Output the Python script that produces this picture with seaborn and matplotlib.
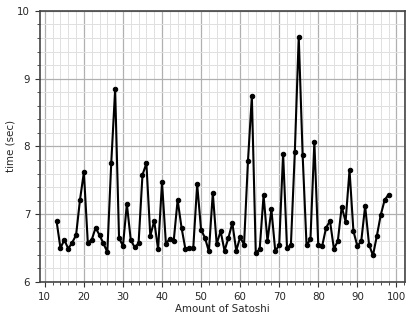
import matplotlib
matplotlib.use("Agg")
import matplotlib.pyplot as plt
import numpy as np
import pandas as pd
import seaborn as sns
from matplotlib.ticker import MultipleLocator

# amount of satoshi sent vs. time it took
satoshi = list(range(13, 99))
time_sec = [
    6.90, 6.50, 6.62, 6.49, 6.58, 6.69, 7.21, 7.62, 6.58, 6.62,
    6.80, 6.69, 6.57, 6.44, 7.75, 8.84, 6.65, 6.53, 7.15, 6.62,
    6.51, 6.57, 7.58, 7.75, 6.68, 6.90, 6.48, 7.47, 6.56, 6.64,
    6.61, 7.21, 6.80, 6.48, 6.50, 6.50, 7.44, 6.77, 6.65, 6.45,
    7.31, 6.56, 6.75, 6.46, 6.65, 6.87, 6.46, 6.66, 6.55, 7.78,
    8.74, 6.43, 6.48, 7.28, 6.60, 7.07, 6.45, 6.55, 7.89, 6.50,
    6.55, 7.92, 9.62, 7.87, 6.54, 6.63, 8.07, 6.54, 6.53, 6.80,
    6.90, 6.49, 6.60, 7.11, 6.89, 7.65, 6.75, 6.53, 6.60, 7.12,
    6.55, 6.39, 6.68, 6.99, 7.21, 7.29,
]

df = pd.DataFrame({"satoshi": satoshi, "time": time_sec})

sns.set_style("white")
plt.rcParams["font.family"] = ["DejaVu Sans"]

fig = plt.figure(figsize=(4.16, 3.2), dpi=100)
ax = fig.add_axes([0.096, 0.119, 0.878, 0.847])

sns.lineplot(data=df, x="satoshi", y="time", ax=ax, color="black",
             linewidth=1.5, marker="o", markersize=3.2,
             markeredgecolor="black")

ax.set_ylim(6, 10)
ax.xaxis.set_major_locator(MultipleLocator(10))
ax.xaxis.set_minor_locator(MultipleLocator(2))
ax.yaxis.set_major_locator(MultipleLocator(1))
ax.yaxis.set_minor_locator(MultipleLocator(0.2))
ax.grid(which="major", color="#b0b0b0", linewidth=0.9)
ax.grid(which="minor", color="#e0e0e0", linewidth=0.7)
ax.set_axisbelow(True)

for s in ax.spines.values():
    s.set_color("#444444")
    s.set_linewidth(1.2)
ax.tick_params(which="major", length=3.5, width=0.8, labelsize=7.4,
               left=True, bottom=True, color="#333333")
ax.tick_params(which="minor", length=2, width=0.6,
               left=True, bottom=True, color="#333333")

ax.set_xlabel("Amount of Satoshi", fontsize=7.4, labelpad=1.5)
ax.set_ylabel("time (sec)", fontsize=7.4, labelpad=1)

fig.savefig("out.png", dpi=100)
